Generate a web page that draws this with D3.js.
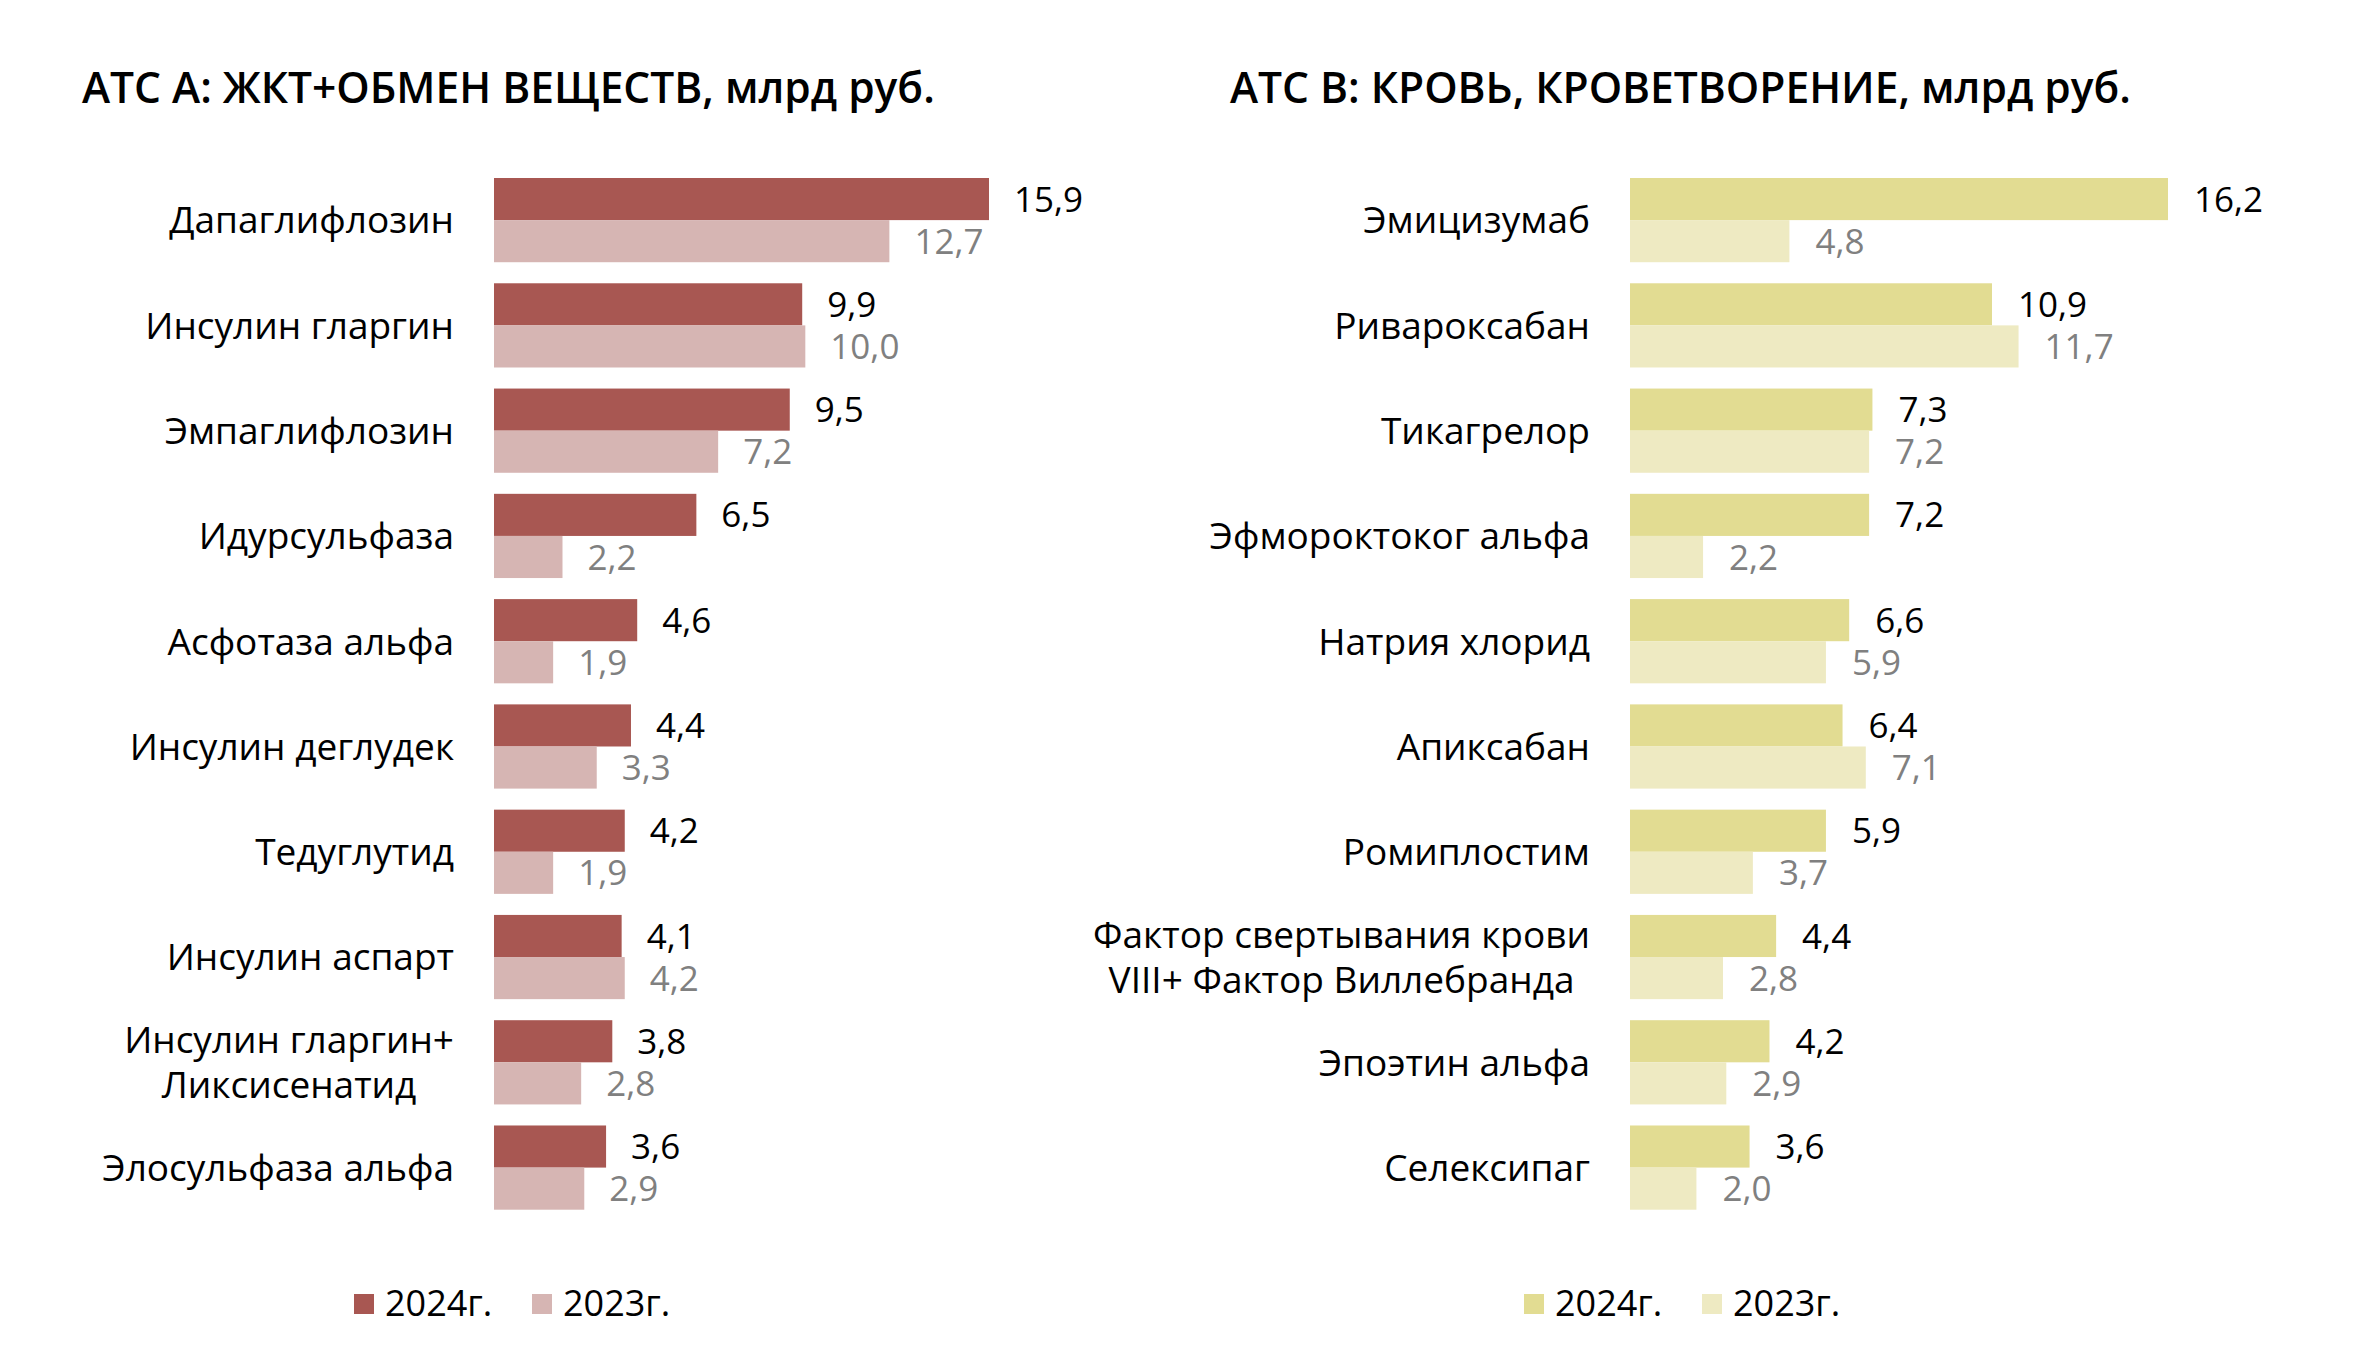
<!DOCTYPE html>
<html>
<head>
<meta charset="utf-8">
<script src="https://cdn.jsdelivr.net/npm/d3@7"></script>
<style>
  html, body { margin: 0; padding: 0; background: #fff; }
  svg text { font-family: "Open Sans", "Noto Sans", sans-serif; }
</style>
</head>
<body>
<div id="chart"></div>
<script>
// data
const years = ["2024г.", "2023г."];

const leftTitle = "АТС А: ЖКТ+ОБМЕН ВЕЩЕСТВ, млрд руб.";
const leftCats = ["Дапаглифлозин", "Инсулин гларгин", "Эмпаглифлозин", "Идурсульфаза",
  "Асфотаза альфа", "Инсулин деглудек", "Тедуглутид", "Инсулин аспарт",
  "Инсулин гларгин+\nЛиксисенатид", "Элосульфаза альфа"];
const left2024 = [15.9, 9.9, 9.5, 6.5, 4.6, 4.4, 4.2, 4.1, 3.8, 3.6];
const left2023 = [12.7, 10.0, 7.2, 2.2, 1.9, 3.3, 1.9, 4.2, 2.8, 2.9];

const rightTitle = "АТС В: КРОВЬ, КРОВЕТВОРЕНИЕ, млрд руб.";
const rightCats = ["Эмицизумаб", "Ривароксабан", "Тикагрелор", "Эфмороктоког альфа",
  "Натрия хлорид", "Апиксабан", "Ромиплостим",
  "Фактор свертывания крови\nVIII+ Фактор Виллебранда", "Эпоэтин альфа", "Селексипаг"];
const right2024 = [16.2, 10.9, 7.3, 7.2, 6.6, 6.4, 5.9, 4.4, 4.2, 3.6];
const right2023 = [4.8, 11.7, 7.2, 2.2, 5.9, 7.1, 3.7, 2.8, 2.9, 2.0];

const W = 2360, H = 1356;

const fmt = d3.formatLocale({ decimal: ",", thousands: " ", grouping: [3], currency: ["", ""] }).format(".1f");

const svg = d3.select("#chart").append("svg")
  .attr("width", W)
  .attr("height", H);

// one panel = title + grouped horizontal bars + legend
function panel(opts) {
  const g = svg.append("g");

  g.append("text")
    .attr("x", opts.titleX)
    .attr("y", 103)
    .attr("font-size", 42.5)
    .attr("font-weight", 600)
    .attr("fill", "#000")
    .text(opts.title);

  const x = d3.scaleLinear()
    .domain([0, d3.max(opts.v2024)])
    .range([opts.barX, opts.barEnd]);

  const y = d3.scaleBand()
    .domain(opts.cats)
    .range([178, 178 + 9 * 105.3 + 84])
    .paddingInner(0.2)
    .paddingOuter(0);

  const yy = d3.scaleBand()
    .domain(years)
    .range([0, y.bandwidth()]);

  const color = d3.scaleOrdinal().domain(years).range(opts.colors);
  const labelColor = d3.scaleOrdinal().domain(years).range(["#000", "#808080"]);

  const rows = opts.cats.map((c, i) => ({
    cat: c,
    vals: [{ year: years[0], v: opts.v2024[i] }, { year: years[1], v: opts.v2023[i] }]
  }));

  const grp = g.selectAll(".grp")
    .data(rows)
    .enter().append("g")
    .attr("class", "grp")
    .attr("transform", d => "translate(0," + y(d.cat) + ")");

  grp.selectAll("rect")
    .data(d => d.vals)
    .enter().append("rect")
    .attr("x", x(0))
    .attr("y", d => yy(d.year))
    .attr("width", d => x(d.v) - x(0))
    .attr("height", yy.bandwidth())
    .attr("fill", d => color(d.year));

  grp.selectAll(".val")
    .data(d => d.vals)
    .enter().append("text")
    .attr("class", "val")
    .attr("x", d => x(d.v) + opts.valGap)
    .attr("y", d => yy(d.year) + yy.bandwidth() / 2)
    .attr("dy", "0.36em")
    .attr("font-size", 35)
    .attr("fill", d => labelColor(d.year))
    .text(d => fmt(d.v));

  // category labels, multi-line ones centred on their widest line
  grp.each(function (d) {
    const lines = d.cat.split("\n");
    const t = d3.select(this).append("text")
      .attr("font-size", 37)
      .attr("fill", "#000");
    const lh = 45;
    const y0 = y.bandwidth() / 2 - (lines.length - 1) * lh / 2;
    const spans = t.selectAll("tspan")
      .data(lines)
      .enter().append("tspan")
      .attr("y", (l, i) => y0 + i * lh)
      .attr("dy", "0.36em")
      .text(l => l);
    if (lines.length === 1) {
      spans.attr("x", opts.labelX);
      t.attr("text-anchor", "end");
    } else {
      let maxW = 0;
      spans.each(function () { maxW = Math.max(maxW, this.getComputedTextLength()); });
      spans.attr("x", opts.labelX - maxW / 2);
      t.attr("text-anchor", "middle");
    }
  });

  // legend
  const leg = g.append("g");
  years.forEach((yr, i) => {
    const lx = opts.legendX[i];
    leg.append("rect")
      .attr("x", lx)
      .attr("y", 1294)
      .attr("width", 20)
      .attr("height", 20)
      .attr("fill", color(yr));
    leg.append("text")
      .attr("x", lx + 31)
      .attr("y", 1316)
      .attr("font-size", 36)
      .attr("fill", "#000")
      .text(yr);
  });
}

panel({
  title: leftTitle, titleX: 82,
  cats: leftCats, v2024: left2024, v2023: left2023,
  barX: 494, barEnd: 989, labelX: 454, valGap: 25,
  colors: ["#a85752", "#d6b5b3"],
  legendX: [354, 532]
});

panel({
  title: rightTitle, titleX: 1230,
  cats: rightCats, v2024: right2024, v2023: right2023,
  barX: 1630, barEnd: 2168, labelX: 1590, valGap: 26,
  colors: ["#e2dc92", "#eeeac2"],
  legendX: [1524, 1702]
});
</script>
</body>
</html>
